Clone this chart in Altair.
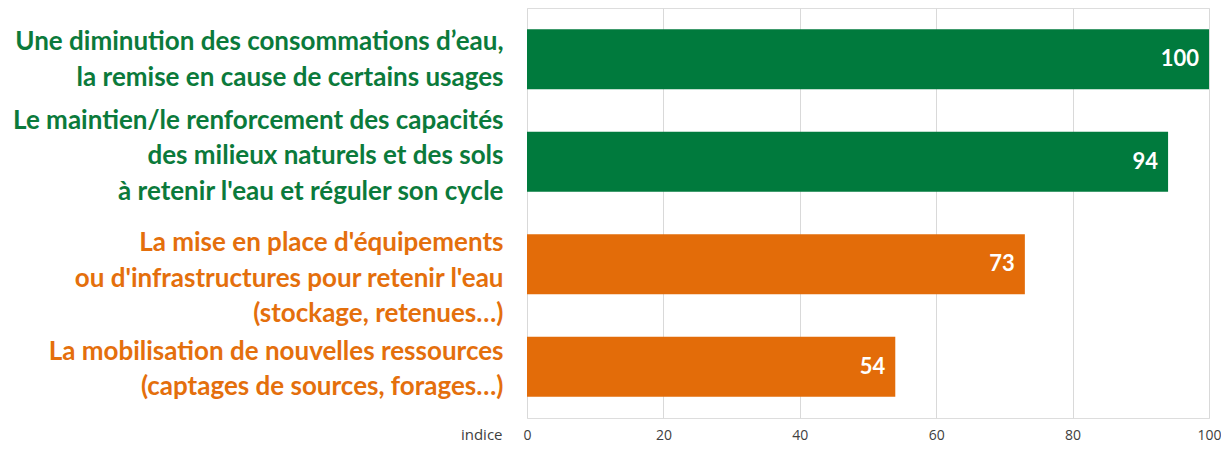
import altair as alt
import pandas as pd

categories = [
    "Une diminution des consommations d’eau,|la remise en cause de certains usages",
    "Le maintien/le renforcement des capacités|des milieux naturels et des sols|à retenir l'eau et réguler son cycle",
    "La mise en place d'équipements|ou d'infrastructures pour retenir l'eau|(stockage, retenues…)",
    "La mobilisation de nouvelles ressources|(captages de sources, forages…)",
]
values = [100, 94, 73, 54]
groups = ["vert", "vert", "orange", "orange"]
ticks = [0, 20, 40, 60, 80, 100]

GREEN = "#007A3D"
ORANGE = "#E36C09"
LABEL_GREEN = "#0B7A3B"
LABEL_ORANGE = "#E46F0C"

df = pd.DataFrame({"cat": categories, "val": values, "grp": groups})

y_enc = alt.Y(
    "cat:N",
    sort=categories,
    title=None,
    scale=alt.Scale(paddingInner=0.415, paddingOuter=0.2075),
    axis=alt.Axis(
        labelExpr="split(datum.label, '|')",
        labelFont="Lato",
        labelFontWeight="bold",
        labelFontSize=26,
        labelLineHeight=35.5,
        labelAlign="right",
        labelBaseline="middle",
        labelPadding=24,
        labelLimit=0,
        labelOffset={
            "condition": [
                {"test": "indexof(datum.value, 'Le m') == 0", "value": -41},
                {"test": "indexof(datum.value, 'La mi') == 0", "value": -21},
                {"test": "indexof(datum.value, 'La mo') == 0", "value": -15},
            ],
            "value": -17,
        },
        labelColor={
            "condition": {"test": "indexof(datum.value, 'La m') == 0", "value": LABEL_ORANGE},
            "value": LABEL_GREEN,
        },
        ticks=False,
        domain=False,
        grid=False,
    ),
)

x_enc = alt.X(
    "val:Q",
    scale=alt.Scale(domain=[0, 100], nice=False),
    axis=alt.Axis(
        values=ticks,
        title="indice",
        titleFont="Open Sans",
        titleFontWeight="normal",
        titleFontSize=15,
        titleColor="#404040",
        titleAnchor="start",
        titleAlign="right",
        titleBaseline="middle",
        titleX=-25,
        titleY=16,
        labelFont="Open Sans",
        labelFontSize=14,
        labelColor="#404040",
        labelPadding=10,
        labelFlush=False,
        ticks=False,
        domain=False,
        grid=True,
        gridColor="#D9D9D9",
        gridWidth=1,
    ),
)

bars = alt.Chart(df).mark_bar().encode(
    y=y_enc,
    x=x_enc,
    color=alt.Color(
        "grp:N",
        scale=alt.Scale(domain=["vert", "orange"], range=[GREEN, ORANGE]),
        legend=None,
    ),
)

texts = alt.Chart(df).mark_text(
    align="right",
    baseline="middle",
    dx=-10,
    font="Lato",
    fontWeight="bold",
    fontSize=22,
    color="white",
).encode(
    y=alt.Y("cat:N", sort=categories),
    x=alt.X("val:Q"),
    text=alt.Text("val:Q"),
)

chart = (
    alt.layer(bars, texts)
    .properties(
        width=682,
        height=410,
        autosize=alt.AutoSizeParams(type="none"),
        padding={"left": 519, "top": 0, "right": 12, "bottom": 24},
    )
    .configure_view(stroke=None)
    .configure(background="white")
)

chart.save("out.html", embed_options={"renderer": "svg", "actions": False})
